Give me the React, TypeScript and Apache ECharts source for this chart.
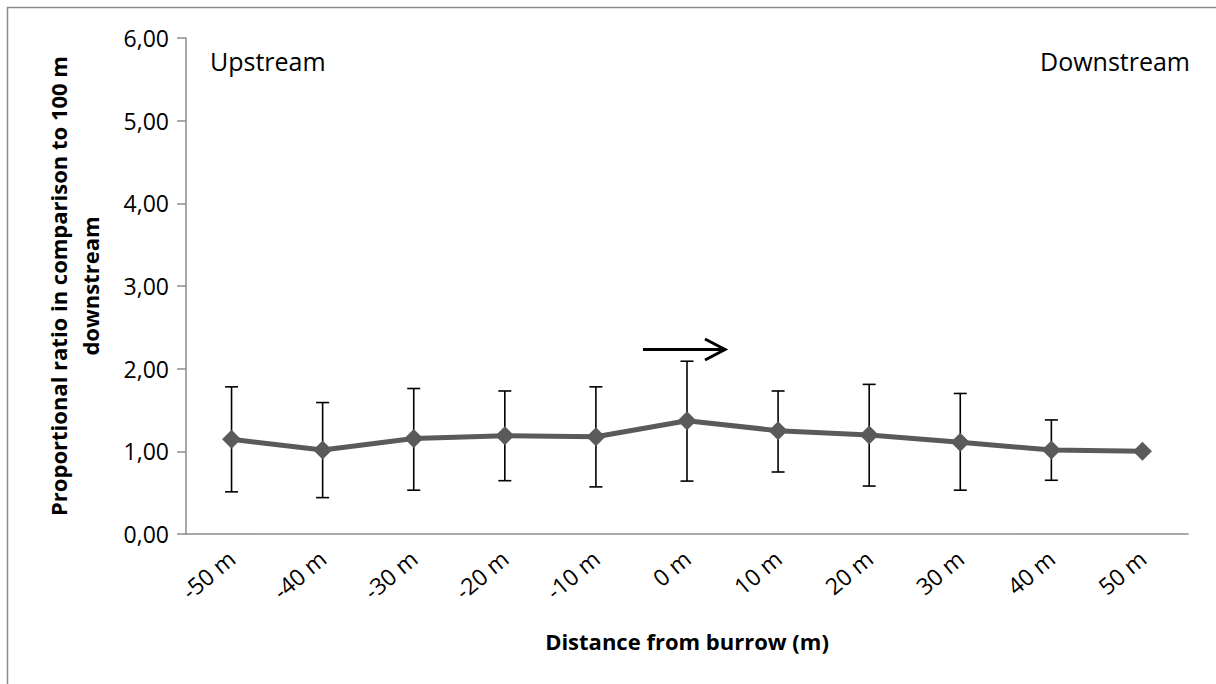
import React, { useEffect, useRef } from "react";
import * as echarts from "echarts";

const categories = ["-50 m", "-40 m", "-30 m", "-20 m", "-10 m", "0 m", "10 m", "20 m", "30 m", "40 m", "50 m"];
const means = [1.145, 1.016, 1.155, 1.19, 1.177, 1.37, 1.25, 1.197, 1.11, 1.016, 1.0];
const upper = [1.78, 1.59, 1.76, 1.73, 1.78, 2.09, 1.73, 1.81, 1.7, 1.38, null];
const lower = [0.51, 0.44, 0.53, 0.645, 0.57, 0.64, 0.75, 0.58, 0.53, 0.65, null];

const FONT = "Open Sans";

export default function App() {
  const ref = useRef<HTMLDivElement>(null);
  useEffect(() => {
    if (!ref.current) return;
    const chart = echarts.init(ref.current, null, { renderer: "svg" });
    const errData = categories
      .map((_, i) => [i, lower[i], upper[i]])
      .filter((d) => d[1] != null && d[2] != null);
    chart.setOption({
      animation: false,
      backgroundColor: "#ffffff",
      grid: { left: 186, right: 28, top: 38, bottom: 150, containLabel: false },
      xAxis: {
        type: "category",
        data: categories,
        boundaryGap: true,
        axisLine: { lineStyle: { color: "#8c8c8c", width: 1.5 } },
        axisTick: { show: false },
        axisLabel: {
          interval: 0,
          rotate: 40,
          margin: 21,
          fontFamily: FONT,
          fontSize: 23,
          color: "#000",
        },
        name: "Distance from burrow (m)",
        nameLocation: "middle",
        nameGap: 96,
        nameTextStyle: { fontFamily: FONT, fontSize: 22, fontWeight: "bold", color: "#000" },
      },
      yAxis: {
        type: "value",
        min: 0,
        max: 6,
        interval: 1,
        splitLine: { show: false },
        axisLine: { show: true, lineStyle: { color: "#8c8c8c", width: 1.5 } },
        axisTick: { show: true, inside: false, length: 9, lineStyle: { color: "#8c8c8c", width: 1.5 } },
        axisLabel: {
          fontFamily: FONT,
          fontSize: 23,
          color: "#000",
          margin: 17,
          formatter: (v: number) => v.toFixed(2).replace(".", ","),
        },
        name: "Proportional ratio in comparison to 100 m\ndownstream",
        nameLocation: "middle",
        nameGap: 80,
        nameRotate: 90,
        nameTextStyle: {
          fontFamily: FONT,
          fontSize: 22,
          fontWeight: "bold",
          color: "#000",
          lineHeight: 32,
          align: "center",
        },
      },
      series: [
        {
          type: "custom",
          z: 1,
          renderItem: (params: any, api: any) => {
            const x = api.value(0);
            const lo = api.coord([x, api.value(1)]);
            const hi = api.coord([x, api.value(2)]);
            const half = 6.5;
            const style = { stroke: "#000", lineWidth: 1.6 };
            return {
              type: "group",
              children: [
                { type: "line", shape: { x1: lo[0], y1: lo[1], x2: hi[0], y2: hi[1] }, style },
                { type: "line", shape: { x1: hi[0] - half, y1: hi[1], x2: hi[0] + half, y2: hi[1] }, style },
                { type: "line", shape: { x1: lo[0] - half, y1: lo[1], x2: lo[0] + half, y2: lo[1] }, style },
              ],
            };
          },
          encode: { x: 0, y: [1, 2] },
          data: errData,
        },
        {
          type: "line",
          z: 2,
          data: means,
          symbol: "diamond",
          symbolSize: 19,
          lineStyle: { color: "#5a5a5a", width: 5 },
          itemStyle: { color: "#5a5a5a" },
        },
      ],
      graphic: [
        {
          type: "rect",
          shape: { x: 7.5, y: 7.5, width: 1400, height: 900 },
          style: { fill: "none", stroke: "#8c8c8c", lineWidth: 1.5 },
          silent: true,
        },
        {
          type: "text",
          left: 210,
          top: 48,
          style: { text: "Upstream", fontFamily: FONT, fontSize: 25, fill: "#000" },
        },
        {
          type: "text",
          right: 26,
          top: 48,
          style: { text: "Downstream", fontFamily: FONT, fontSize: 25, fill: "#000" },
        },
        {
          type: "line",
          shape: { x1: 643, y1: 349.5, x2: 724, y2: 349.5 },
          style: { stroke: "#000", lineWidth: 3 },
        },
        {
          type: "polyline",
          shape: { points: [[705, 339], [725, 349.5], [705, 360]] },
          style: { stroke: "#000", lineWidth: 3, fill: "none" },
        },
      ],
    });
    return () => chart.dispose();
  }, []);
  return (
    <div
      ref={ref}
      style={{ position: "absolute", left: 0, top: 0, width: 1216, height: 684 }}
    />
  );
}
